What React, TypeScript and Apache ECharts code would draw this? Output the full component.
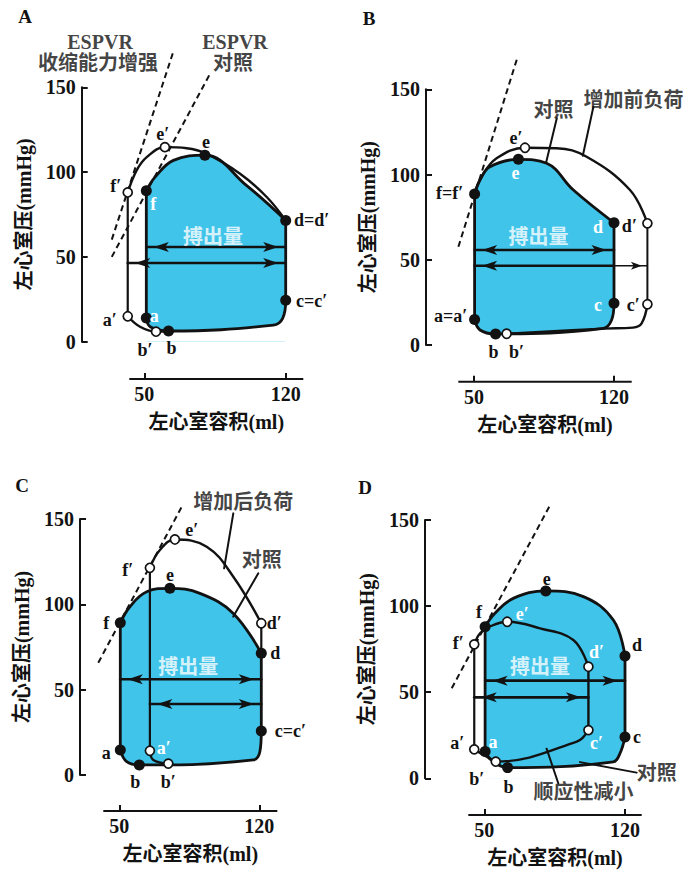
import { useEffect, useRef } from 'react';
import * as echarts from 'echarts';

const FONT = "'Liberation Serif', 'Noto Sans CJK SC', serif";
const INK = '#121212';
const BLUE = '#40c4ea';

const panelLetters = ['A', 'B', 'C', 'D'];
const xTickValues = [50, 120];
const yAxisName = '左心室压(mmHg)';
const xAxisName = '左心室容积(ml)';
const svText = '搏出量';

// ---------- Panel A : contractility ----------
const aCtrlBottom = [[51, 14], [52.9, 8.8], [62, 6.3], [113.9, 9.8], [118.5, 13.8], [120, 24.5]];
const aCtrlTop = [[120, 71.5], [100.7, 92], [80, 110], [64.4, 106.9], [55.3, 97], [51, 89]];
const aCtrlLeft = [[51, 89], [51, 14]];
const aCtrlRight = [[120, 24.5], [120, 71.5]];
const aEnhTop = [[120, 71.5], [110.6, 85.3], [97.4, 99], [80.5, 111], [71, 114.1], [60.2, 114.7], [51.2, 108.8], [46.2, 101], [41.8, 88]];
const aEnhLeft = [[41.8, 88], [41.8, 15]];
const aEnhBottom = [[41.8, 15], [47.9, 8.8], [55.8, 5.9], [62, 6.3]];
const aEspvrEnh = [[33.9, 60.2], [64.1, 170]];
const aEspvrCtrl = [[33.9, 50], [82.9, 158.8]];
const aFilled = [[51, 89], [80, 110], [120, 71.5], [120, 24.5], [51, 14], [62, 6.3]];
const aFilledNames = ['f', 'e', 'd=d′', 'c=c′', 'a', 'b'];
const aOpen = [[41.8, 88], [60.2, 114.7], [41.8, 15], [55.8, 5.9]];
const aOpenNames = ['f′', 'e′', 'a′', 'b′'];
const aArrowFrom = [[51, 55.8], [41.8, 46.4]];
const aArrowTo = [[120, 55.8], [120, 46.4]];
const aNoteText = ['ESPVR', '收缩能力增强', 'ESPVR', '对照'];
const aNotePos = [[28.1, 176.7], [27.1, 164.3], [94.9, 176.7], [93.9, 164.3]];
const aSvPos = [84, 61.7];

// ---------- Panel B : preload ----------
const bCtrlBottom = [[50.3, 15], [53, 8.8], [60.8, 6.5], [114.7, 9.8], [118.8, 14.7], [120, 24.5]];
const bCtrlTop = [[120, 71.7], [99.7, 90.9], [86.3, 106.6], [72.2, 108.9], [58, 104.6], [53, 96.8], [50.3, 88.6]];
const bCtrlLeft = [[50.3, 88.6], [50.3, 15]];
const bCtrlRight = [[120, 24.5], [120, 71.7]];
const bPreBottom = [[66.3, 6.6], [114.7, 9.6], [129.5, 10.2], [133.8, 12.7], [136.7, 23.9]];
const bPreRight = [[136.7, 23.9], [136.7, 71.4]];
const bPreTop = [[136.7, 71.4], [128, 90.9], [106.3, 110.4], [91.3, 115.4], [75.5, 115.7], [61.3, 109.5], [53.8, 98.7], [50.3, 88.6]];
const bEspvr = [[42.2, 57.6], [71.8, 169]];
const bFilled = [[50.3, 88.6], [72.2, 108.9], [120, 71.7], [120, 24.5], [50.3, 15], [60.8, 6.5]];
const bFilledNames = ['f=f′', 'e', 'd', 'c', 'a=a′', 'b'];
const bOpen = [[75.5, 115.7], [136.7, 71.4], [136.7, 23.9], [66.3, 6.6]];
const bOpenNames = ['e′', 'd′', 'c′', 'b′'];
const bArrowFrom = [[50.3, 55.7], [50.3, 46.5], [120, 46.5]];
const bArrowTo = [[120, 55.7], [120, 46.5], [136.7, 46.5]];
const bNoteText = ['增加前负荷', '对照'];
const bNotePos = [[129.7, 143.7], [89.7, 137.8]];
const bLeaders = [[[91.4, 133], [86, 106.8]], [[109.7, 139.8], [104.4, 111]]];
const bSvPos = [82.2, 63.5];

// ---------- Panel C : afterload ----------
const cCtrlBottom = [[50.5, 14.6], [53.7, 7.8], [60, 5.9], [117, 8.8], [120.3, 13.7], [121, 25.8]];
const cCtrlTop = [[121, 71.3], [107, 94.7], [90.3, 106.4], [75.3, 109.4], [63.7, 107.4], [55.3, 98.6], [50.5, 89.2]];
const cCtrlLeft = [[50.5, 89.2], [50.5, 14.6]];
const cCtrlRight = [[121, 25.8], [121, 71.3]];
const cAftLeft = [[65.3, 14.2], [65.3, 121.4]];
const cAftTop = [[65.3, 121.4], [70.3, 131.8], [77.8, 138], [93.7, 133.8], [107, 116.2], [121, 88.9]];
const cAftRight = [[121, 88.9], [121, 71.3]];
const cAftBottom = [[65.3, 14.2], [67, 8.8], [74.5, 6.7]];
const cEspvr = [[39.5, 65.8], [81.7, 158.2]];
const cFilled = [[50.5, 89.2], [75.3, 109.4], [121, 71.3], [121, 25.8], [50.5, 14.6], [60, 5.9]];
const cFilledNames = ['f', 'e', 'd', 'c=c′', 'a', 'b'];
const cOpen = [[65.3, 121.4], [77.8, 138], [121, 88.9], [65.3, 14.2], [74.5, 6.7]];
const cOpenNames = ['f′', 'e′', 'd′', 'a′', 'b′'];
const cArrowFrom = [[50.5, 56.1], [65.3, 41.6]];
const cArrowTo = [[121, 56.1], [121, 41.6]];
const cNoteText = ['增加后负荷', '对照'];
const cNotePos = [[112, 160.1], [121.2, 126]];
const cLeaders = [[[107, 153.3], [102.4, 121.1]], [[119.5, 118.2], [107, 92.8]]];
const cSvPos = [84.5, 63.5];

// ---------- Panel D : compliance ----------
const dCtrlBottom = [[50.4, 15.5], [53.7, 10.6], [61.6, 6.2], [114.2, 9.6], [117.5, 14.5], [120, 24]];
const dCtrlTop = [[120, 71], [114.2, 91.9], [99.3, 105.5], [80.6, 108.8], [64.4, 104.5], [55.3, 95.8], [50.4, 88]];
const dCtrlLeft = [[50.4, 88], [50.4, 15.5]];
const dCtrlRight = [[120, 24], [120, 71]];
const dCompLeft = [[45, 77.8], [45, 16.8]];
const dCompBottom = [[45, 16.8], [51.2, 12.5], [55.7, 9.7], [96, 21.3], [101.8, 28]];
const dCompRight = [[101.8, 28], [101.8, 64.8]];
const dCompTop = [[101.8, 64.8], [94.3, 80.3], [77.7, 87.1], [61.4, 90.9], [52.5, 88], [47.9, 84.2], [45, 77.8]];
const dEspvr = [[33.8, 52.3], [82.3, 157.7]];
const dFilled = [[50.4, 88], [80.6, 108.8], [120, 71], [120, 24], [50.4, 15.5], [61.6, 6.2]];
const dFilledNames = ['f', 'e', 'd', 'c', 'a', 'b'];
const dOpen = [[45, 77.8], [61.4, 90.9], [101.8, 64.8], [101.8, 28], [45, 16.8], [55.7, 9.7]];
const dOpenNames = ['f′', 'e′', 'd′', 'c′', 'a′', 'b′'];
const dArrowFrom = [[50.4, 56.7], [45, 47]];
const dArrowTo = [[120, 56.7], [101.8, 47]];
const dNoteText = ['对照', '顺应性减小'];
const dNotePos = [[135.8, 2.9], [99.3, -7.8]];
const dLeaders = [[[125.8, 3.3], [97.6, 9.4]], [[86.8, -2.9], [81, 17.2]]];
const dSvPos = [77.7, 64.8];

// ---------- layout (pixels) ----------
// x50/x120: pixel of the 50/120 ticks; xl/xr: ends of the drawn volume-axis line;
// y150/y0: pixel rows of 150/0 mmHg; yax: column of pressure axis; xay: row of volume axis.
const LAYOUT = [
  { x50: 144.3, x120: 285.7, xl: 129.3, xr: 303.3, y150: 87.3, y0: 341.7, yax: 81.7, xay: 379, letter: [25, 16] },
  { x50: 474, x120: 614, xl: 458.3, xr: 631.7, y150: 89.3, y0: 345, yax: 426, xay: 381.7, letter: [369, 18] },
  { x50: 119.3, x120: 259.3, xl: 103.3, xr: 277.3, y150: 519, y0: 775, yax: 80, xay: 811, letter: [22, 485] },
  { x50: 484.3, x120: 625, xl: 468.3, xr: 641.7, y150: 520, y0: 778.3, yax: 425, xay: 815, letter: [365, 487] },
];

// label offsets (pixels) and white-label flags
const aFilledOff = [[7, 13], [1, -13], [26, 0], [26, 1], [8, -2], [3, 17]];
const aFilledWhite = [true, false, false, false, true, false];
const aOpenOff = [[-12, -6], [-2, -13], [-18, 4], [-11, 18]];
const aOpenWhite = [false, false, false, false];
const bFilledOff = [[-25, -1], [-3, 14], [-16, 4], [-16, 2], [-24, -3], [-2, 18]];
const bFilledWhite = [false, true, true, true, false, false];
const bOpenOff = [[-9, -10], [-18, 3], [-14, 1], [10, 18]];
const bOpenWhite = [false, false, false, false];
const cFilledOff = [[-14, 0], [0, -13], [14, 0], [29, 0], [-14, 3], [-4, 17]];
const cFilledWhite = [false, false, false, false, false, false];
const cOpenOff = [[-22, 2], [17, -9], [13, 0], [14, -3], [0, 18]];
const cOpenWhite = [false, false, false, true, false];
const dFilledOff = [[-6, -15], [1, -12], [12, -11], [12, 0], [8, -10], [1, 19]];
const dFilledWhite = [false, false, false, false, true, false];
const dOpenOff = [[-16, -1], [15, -8], [8, -15], [8, 13], [-17, -6], [-19, 17]];
const dOpenWhite = [false, true, true, true, false, false];

const SMOOTH = 0.4;
const W_CTRL = 2.8;
const W_ALT = 2.4;
const W_ALT_V = 2.2;

function line(i: number, data: any[], width: number, extra: any = {}) {
  return {
    type: 'line', xAxisIndex: i, yAxisIndex: i, data, smooth: SMOOTH, symbol: 'none',
    clip: false, silent: true, lineStyle: { color: INK, width, cap: 'round', join: 'round' }, z: 3, ...extra,
  };
}

function fill(i: number, data: any[], color: string, z: number) {
  return {
    type: 'line', xAxisIndex: i, yAxisIndex: i, data, smooth: SMOOTH, symbol: 'none', silent: true,
    lineStyle: { width: 0, opacity: 0 }, areaStyle: { color, opacity: 1 }, z,
  };
}

// thin white edges under the loop's lower corners, hiding the antialiasing seam
// where the blue area and the white area share a vertical border
function seams(i: number, bottom: number[][]) {
  const first = bottom[0];
  const last = bottom[bottom.length - 1];
  return [
    line(i, [[first[0], 0], first], 2, { smooth: false, z: 2.5, lineStyle: { color: '#fff', width: 2 } }),
    line(i, [[last[0], 0], last], 2, { smooth: false, z: 2.5, lineStyle: { color: '#fff', width: 2 } }),
  ];
}

function dashed(i: number, data: any[]) {
  return line(i, data, 2, { smooth: false, lineStyle: { color: INK, width: 2, type: [6, 4] } });
}

function markers(i: number, pts: number[][], names: string[], offs: number[][], whites: boolean[], open: boolean) {
  return {
    type: 'scatter', xAxisIndex: i, yAxisIndex: i, clip: false, silent: true, z: 6,
    symbol: 'circle', symbolSize: open ? 9 : 11,
    itemStyle: open ? { color: '#fff', borderColor: INK, borderWidth: 1.7, opacity: 1 } : { color: INK, opacity: 1 },
    label: { show: true, formatter: '{b}', fontFamily: FONT, fontSize: 18, fontWeight: 'bold', color: INK },
    data: pts.map((p, k) => ({
      name: names[k], value: p,
      label: { show: true, position: 'inside', offset: offs[k], color: whites[k] ? '#fff' : INK },
    })),
  };
}

function notes(i: number, texts: string[], pos: number[][], color: string, size: number) {
  return {
    type: 'scatter', xAxisIndex: i, yAxisIndex: i, clip: false, silent: true, z: 7,
    symbol: 'circle', symbolSize: 1, itemStyle: { color: 'rgba(0,0,0,0)' },
    label: { show: true, position: 'inside', formatter: '{b}', fontFamily: FONT, fontSize: size, fontWeight: 'bold', color },
    data: texts.map((t, k) => ({ name: t, value: pos[k] })),
  };
}

function arrow(i: number, from: number[], to: number[], left: boolean, right: boolean, width: number) {
  const size = width < 2 ? [6, 11] : [7.5, 15];
  const half = size[1] / 2;
  return line(i, [
    { value: from, symbol: left ? 'arrow' : 'none', symbolRotate: 90, symbolSize: size, symbolOffset: [half, 0] },
    { value: to, symbol: right ? 'arrow' : 'none', symbolRotate: -90, symbolSize: size, symbolOffset: [-half, 0] },
  ], width, { smooth: false, symbol: 'arrow', showSymbol: true, itemStyle: { color: INK }, z: 4 });
}

function buildSeries() {
  const s: any[] = [];
  // Panel A
  s.push(fill(0, aCtrlTop, BLUE, 1), fill(0, aCtrlBottom, '#fff', 2), ...seams(0, aCtrlBottom));
  s.push(dashed(0, aEspvrEnh), dashed(0, aEspvrCtrl));
  [aCtrlBottom, aCtrlTop, aCtrlLeft, aCtrlRight].forEach((d) => s.push(line(0, d, W_CTRL)));
  [aEnhTop, aEnhBottom].forEach((d) => s.push(line(0, d, W_ALT)));
  s.push(line(0, aEnhLeft, W_ALT_V));
  aArrowFrom.forEach((f, k) => s.push(arrow(0, f, aArrowTo[k], true, true, 2.6)));
  s.push(markers(0, aFilled, aFilledNames, aFilledOff, aFilledWhite, false));
  s.push(markers(0, aOpen, aOpenNames, aOpenOff, aOpenWhite, true));
  s.push(notes(0, aNoteText, aNotePos, INK, 20));
  s.push(notes(0, [svText], [aSvPos], '#fff', 20));

  // Panel B
  s.push(fill(1, bCtrlTop, BLUE, 1), fill(1, bCtrlBottom, '#fff', 2), ...seams(1, bCtrlBottom));
  s.push(dashed(1, bEspvr));
  [bCtrlBottom, bCtrlTop, bCtrlLeft, bCtrlRight].forEach((d) => s.push(line(1, d, W_CTRL)));
  [bPreBottom, bPreTop].forEach((d) => s.push(line(1, d, W_ALT)));
  s.push(line(1, bPreRight, 2));
  s.push(arrow(1, bArrowFrom[0], bArrowTo[0], true, true, 2.6));
  s.push(arrow(1, bArrowFrom[1], bArrowTo[1], true, false, 2.6));
  s.push(arrow(1, bArrowFrom[2], bArrowTo[2], false, true, 1.4));
  bLeaders.forEach((d) => s.push(line(1, d, 2, { smooth: false })));
  s.push(markers(1, bFilled, bFilledNames, bFilledOff, bFilledWhite, false));
  s.push(markers(1, bOpen, bOpenNames, bOpenOff, bOpenWhite, true));
  s.push(notes(1, bNoteText, bNotePos, INK, 20));
  s.push(notes(1, [svText], [bSvPos], '#fff', 20));

  // Panel C
  s.push(fill(2, cCtrlTop, BLUE, 1), fill(2, cCtrlBottom, '#fff', 2), ...seams(2, cCtrlBottom));
  s.push(dashed(2, cEspvr));
  [cCtrlBottom, cCtrlTop, cCtrlLeft, cCtrlRight].forEach((d) => s.push(line(2, d, W_CTRL)));
  [cAftTop, cAftBottom].forEach((d) => s.push(line(2, d, W_ALT)));
  [cAftLeft, cAftRight].forEach((d) => s.push(line(2, d, W_ALT_V)));
  cArrowFrom.forEach((f, k) => s.push(arrow(2, f, cArrowTo[k], true, true, 2.6)));
  cLeaders.forEach((d) => s.push(line(2, d, 2, { smooth: false })));
  s.push(markers(2, cFilled, cFilledNames, cFilledOff, cFilledWhite, false));
  s.push(markers(2, cOpen, cOpenNames, cOpenOff, cOpenWhite, true));
  s.push(notes(2, cNoteText, cNotePos, INK, 20));
  s.push(notes(2, [svText], [cSvPos], '#fff', 20));

  // Panel D
  s.push(fill(3, dCtrlTop, BLUE, 1), fill(3, dCtrlBottom, '#fff', 2), ...seams(3, dCtrlBottom));
  s.push(dashed(3, dEspvr));
  [dCtrlBottom, dCtrlTop, dCtrlLeft, dCtrlRight].forEach((d) => s.push(line(3, d, W_CTRL)));
  [dCompTop, dCompBottom, dCompRight].forEach((d) => s.push(line(3, d, W_ALT)));
  s.push(line(3, dCompLeft, W_ALT_V));
  dArrowFrom.forEach((f, k) => s.push(arrow(3, f, dArrowTo[k], true, true, 2.6)));
  dLeaders.forEach((d) => s.push(line(3, d, 2, { smooth: false })));
  s.push(markers(3, dFilled, dFilledNames, dFilledOff, dFilledWhite, false));
  s.push(markers(3, dOpen, dOpenNames, dOpenOff, dOpenWhite, true));
  s.push(notes(3, dNoteText, dNotePos, INK, 20));
  s.push(notes(3, [svText], [dSvPos], '#fff', 20));
  return s;
}

function buildOption() {
  const textStyle = { fontFamily: FONT, fontWeight: 'bold', color: INK };
  // grid spans from the pressure axis to a right edge chosen so the volume-axis
  // name stays centred under the drawn volume-axis line
  const gridRight = (L: any) => (L.xl + L.xr) - L.yax;
  const grid = LAYOUT.map((L) => ({
    left: L.yax, top: L.y150, width: gridRight(L) - L.yax, height: L.y0 - L.y150,
    containLabel: false, outerBoundsMode: 'none',
  }));
  const xAxis = LAYOUT.map((L, i) => {
    const ppu = (L.x120 - L.x50) / 70;
    return {
      type: 'value', gridIndex: i, position: 'bottom',
      min: 50 - (L.x50 - L.yax) / ppu, max: 50 + (gridRight(L) - L.x50) / ppu,
      offset: L.xay - L.y0,
      axisLine: { show: false, onZero: false },
      axisTick: { show: true, inside: true, length: 6, customValues: xTickValues, lineStyle: { color: INK, width: 2 } },
      axisLabel: { show: true, customValues: xTickValues, margin: 5, fontSize: 20, ...textStyle },
      splitLine: { show: false },
      name: xAxisName, nameLocation: 'middle', nameGap: 33,
      nameTextStyle: { fontSize: 20, ...textStyle },
    };
  });
  const yAxis = LAYOUT.map((L, i) => ({
    type: 'value', gridIndex: i, position: 'left', min: 0, max: 150, interval: 50,
    offset: 0,
    axisLine: { show: true, onZero: false, lineStyle: { color: INK, width: 2 } },
    axisTick: { show: true, inside: true, length: 6, lineStyle: { color: INK, width: 2 } },
    axisLabel: { show: true, margin: 6, fontSize: 20, ...textStyle },
    splitLine: { show: false },
    name: yAxisName, nameLocation: 'middle', nameRotate: 90, nameGap: 48,
    nameTextStyle: { fontSize: 20, ...textStyle },
  }));
  const letters = panelLetters.map((t, i) => ({
    type: 'text', x: LAYOUT[i].letter[0], y: LAYOUT[i].letter[1], silent: true,
    style: {
      text: t, fill: INK, font: `bold 19px 'Liberation Serif', serif`,
      align: 'center', verticalAlign: 'middle', textAlign: 'center', textVerticalAlign: 'middle',
    },
  }));
  // the volume axis line is shorter than the plotting area
  const volumeLines = LAYOUT.map((L) => ({
    type: 'line', silent: true, z: 10,
    shape: { x1: L.xl, y1: L.xay, x2: L.xr, y2: L.xay },
    style: { stroke: INK, lineWidth: 2 },
  }));
  return {
    animation: false,
    backgroundColor: '#fff',
    grid, xAxis, yAxis,
    graphic: [...letters, ...volumeLines],
    series: buildSeries(),
  };
}

export default function App() {
  const ref = useRef<HTMLDivElement>(null);
  useEffect(() => {
    if (!ref.current) return;
    const chart = echarts.init(ref.current, undefined, { renderer: 'svg' });
    chart.setOption(buildOption() as any);
    return () => chart.dispose();
  }, []);
  return (
    <div
      ref={ref}
      style={{ position: 'fixed', left: 0, top: 0, width: 685, height: 872, background: '#fff' }}
    />
  );
}
